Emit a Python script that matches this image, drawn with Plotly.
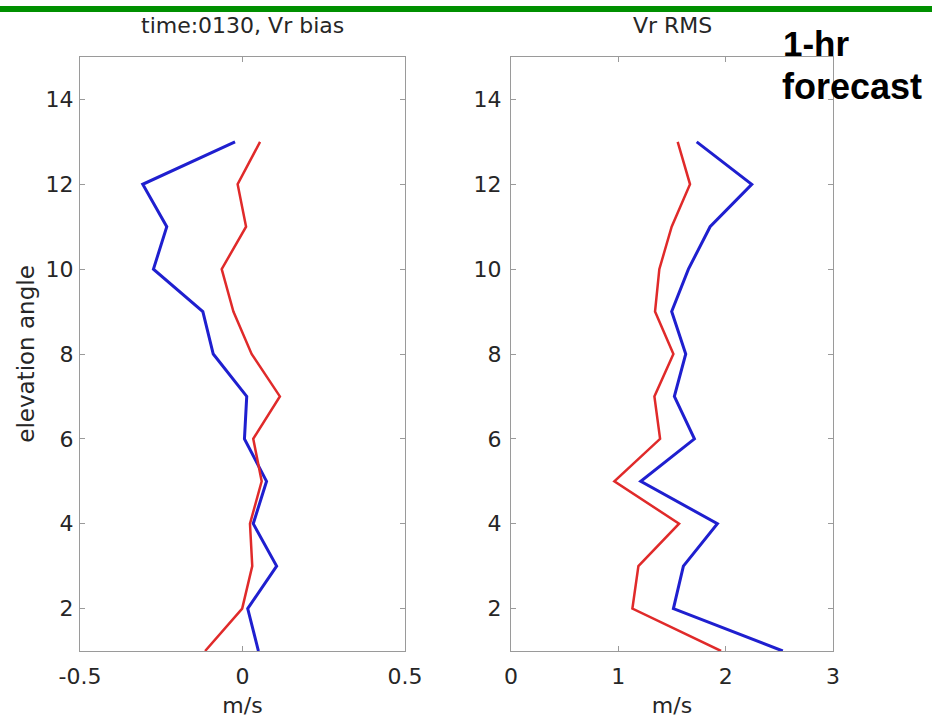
import plotly.graph_objects as go

elev = [13, 12, 11, 10, 9, 8, 7, 6, 5, 4, 3, 2, 1]

bias_blue = [-0.023, -0.307, -0.233, -0.274, -0.122, -0.090, 0.013, 0.006, 0.074, 0.033, 0.105, 0.016, 0.049]
bias_red = [0.054, -0.015, 0.011, -0.064, -0.028, 0.028, 0.115, 0.033, 0.059, 0.023, 0.030, -0.001, -0.115]

rms_blue = [1.73, 2.243, 1.855, 1.653, 1.497, 1.628, 1.522, 1.709, 1.209, 1.923, 1.606, 1.513, 2.532]
rms_red = [1.553, 1.668, 1.497, 1.382, 1.342, 1.513, 1.336, 1.389, 0.963, 1.566, 1.187, 1.131, 1.957]

titles = ["time:0130, Vr bias", "Vr RMS"]
y_label = "elevation angle"
x_label = "m/s"
bias_ticks = [-0.5, 0, 0.5]
rms_ticks = [0, 1, 2, 3]
y_ticks = [2, 4, 6, 8, 10, 12, 14]

BLUE = "#1f1fcf"
RED = "#e02a2a"
FONT = "DejaVu Sans"
TXT = "#262626"
W, H = 932, 719
ML, MR, MT, MB = 80, 99, 57, 68
PW = W - ML - MR
PH = H - MT - MB

fig = go.Figure()
fig.add_trace(go.Scatter(x=bias_blue, y=elev, mode="lines", line=dict(color=BLUE, width=3),
                         xaxis="x", yaxis="y", showlegend=False))
fig.add_trace(go.Scatter(x=bias_red, y=elev, mode="lines", line=dict(color=RED, width=2.5),
                         xaxis="x", yaxis="y", showlegend=False))
fig.add_trace(go.Scatter(x=rms_red, y=elev, mode="lines", line=dict(color=RED, width=2.5),
                         xaxis="x2", yaxis="y2", showlegend=False))
fig.add_trace(go.Scatter(x=rms_blue, y=elev, mode="lines", line=dict(color=BLUE, width=3),
                         xaxis="x2", yaxis="y2", showlegend=False))

d1 = [0, 325 / PW]
d2 = [(511 - ML) / PW, 1]

ax_common = dict(showline=True, linecolor="#9a9a9a", linewidth=1.3, mirror="allticks",
                 ticks="inside", ticklen=5, tickcolor="#9a9a9a", showgrid=False, zeroline=False,
                 automargin=False,
                 tickfont=dict(family=FONT, size=22, color=TXT))

xt = dict(text=x_label, font=dict(family=FONT, size=22, color=TXT), standoff=10)

fig.update_layout(
    width=W, height=H,
    margin=dict(l=ML, r=MR, t=MT, b=MB),
    paper_bgcolor="white", plot_bgcolor="white",
    xaxis=dict(domain=d1, range=[-0.5, 0.5], tickvals=bias_ticks, ticktext=["-0.5", "0", "0.5"],
               anchor="y", title=xt, ticklabelstandoff=5, **ax_common),
    yaxis=dict(domain=[0, 1], range=[1, 15], tickvals=y_ticks, anchor="x", ticklabelstandoff=1,
               title=dict(text=y_label, font=dict(family=FONT, size=23, color=TXT), standoff=4),
               **ax_common),
    xaxis2=dict(domain=d2, range=[0, 3], tickvals=rms_ticks, anchor="y2", title=xt,
                ticklabelstandoff=5, **ax_common),
    yaxis2=dict(domain=[0, 1], range=[1, 15], tickvals=y_ticks, anchor="x2", ticklabelstandoff=4,
                **ax_common),
)

# Titles
for i, t in enumerate(titles):
    d = d1 if i == 0 else d2
    fig.add_annotation(text=t, x=(d[0] + d[1]) / 2, y=(H - MB - 25) / PH, xref="paper", yref="paper",
                       xanchor="center", yanchor="middle", showarrow=False,
                       font=dict(family=FONT, size=22, color=TXT))

# 1-hr forecast label
fig.add_annotation(text="<b>1-hr</b>", x=(781 - ML) / PW, y=(H - MB - 43) / PH, xref="paper", yref="paper",
                   xanchor="left", yanchor="middle", showarrow=False,
                   font=dict(family="Arial", size=35, color="black"))
fig.add_annotation(text="<b>forecast</b>", x=(780 - ML) / PW, y=(H - MB - 86) / PH, xref="paper", yref="paper",
                   xanchor="left", yanchor="middle", showarrow=False,
                   font=dict(family="Arial", size=36, color="black"))

# green band at top
fig.add_shape(type="line", xref="paper", yref="paper",
              x0=-ML / PW, x1=(W - ML) / PW, y0=(H - MB - 9) / PH, y1=(H - MB - 9) / PH,
              line=dict(color="#009000", width=6))

fig.write_html("out.html")
